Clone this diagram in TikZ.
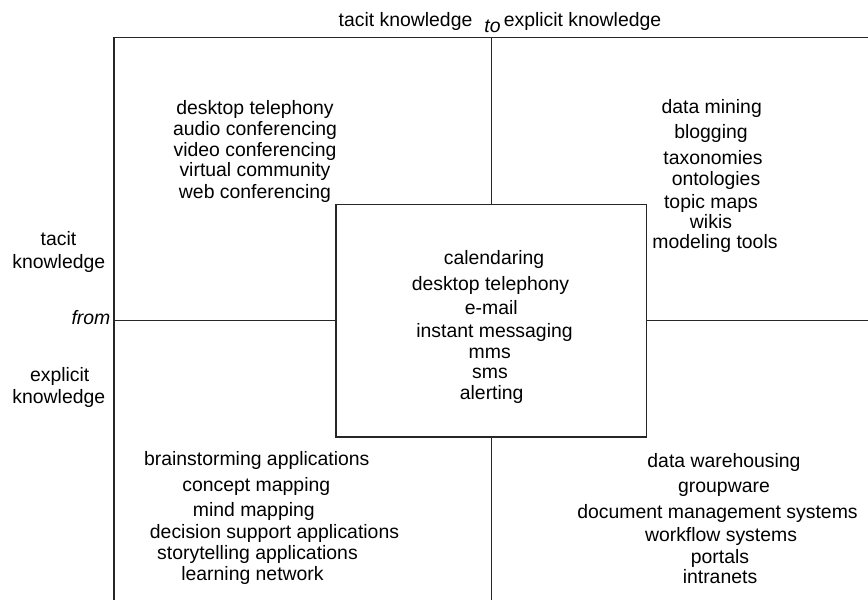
\documentclass[tikz,border=0pt]{standalone}
\usepackage{fontspec}
\setmainfont{Liberation Sans}
\usetikzlibrary{positioning}

\begin{document}
\begin{tikzpicture}[
    x=1pt, y=-1pt,
    item/.style={anchor=base, inner sep=0pt, font=\fontsize{19.4}{21}\selectfont},
    pivot/.style={item, font=\fontsize{19.4}{21}\selectfont\itshape},
    rule/.style={line width=1.2pt, draw=black!85},
    hubbox/.style={rectangle, draw=black!85, line width=1.2pt, minimum width=310.5pt, minimum height=232.5pt, inner sep=0pt}
]
    \useasboundingbox (0,0) rectangle (868,600);

    % frame and centre box
    \coordinate (nw) at (114,37.5);
    \coordinate (ne) at (868,37.5);
    \coordinate (sw) at (114,600);
    \coordinate (top) at (491.25,37.5);
    \coordinate (bottom) at (491.25,600);
    \coordinate (west) at (114,320.75);
    \coordinate (east) at (868,320.75);
    \node[hubbox] (hub) at (491.25,320.75) {};

    \draw[rule] (ne) -- (nw) -- (sw);
    \draw[rule] (top) -- (hub.north);
    \draw[rule] (hub.south) -- (bottom);
    \draw[rule] (west) -- (hub.west);
    \draw[rule] (hub.east) -- (east);

    % axis labels
    \node[item] (tacit-top) at (405.5,26) {tacit knowledge};
    \node[pivot] (to) at (492.5,32) {to};
    \node[item] (explicit-top) at (582.5,26) {explicit knowledge};
    \node[item] (tacit-left) at (58.5,245) {tacit};
    \node[item] (tacit-left2) at (58.8,268) {knowledge};
    \node[pivot, anchor=base east] (from) at (110.5,324) {from};
    \node[item] (explicit-left) at (59.7,381) {explicit};
    \node[item] (explicit-left2) at (58.8,403) {knowledge};

    % quadrants
    \foreach \x/\y/\txt [count=\i] in {255/114.3/desktop telephony, 255/135/audio conferencing,
        255/156.7/video conferencing, 255/176.7/virtual community, 255/198.3/web conferencing}
        \node[item] (tl-\i) at (\x,\y) {\txt};

    \foreach \x/\y/\txt [count=\i] in {711.7/113.8/data mining, 711/138.8/blogging,
        713/164.8/taxonomies, 716/185.5/ontologies, 711/208.8/topic maps,
        711/228.8/wikis, 715/248.8/modeling tools}
        \node[item] (tr-\i) at (\x,\y) {\txt};

    \foreach \x/\y/\txt [count=\i] in {494/264/calendaring, 490.5/290.5/desktop telephony,
        491.3/314.5/e-mail, 494.5/337/instant messaging, 489.7/358/mms,
        490/378/sms, 491.7/399/alerting}
        \node[item] (mid-\i) at (\x,\y) {\txt};

    \foreach \x/\y/\txt [count=\i] in {256.8/465/brainstorming applications, 256.3/491.5/concept mapping,
        253.8/516/mind mapping, 274.5/538/decision support applications,
        257.5/559.5/storytelling applications, 252.5/580.5/learning network}
        \node[item] (bl-\i) at (\x,\y) {\txt};

    \foreach \x/\y/\txt [count=\i] in {724/467/data warehousing, 724/492/groupware,
        717.5/518/document management systems, 721/541.5/workflow systems,
        720/563/portals, 720/583/intranets}
        \node[item] (br-\i) at (\x,\y) {\txt};
\end{tikzpicture}
\end{document}
